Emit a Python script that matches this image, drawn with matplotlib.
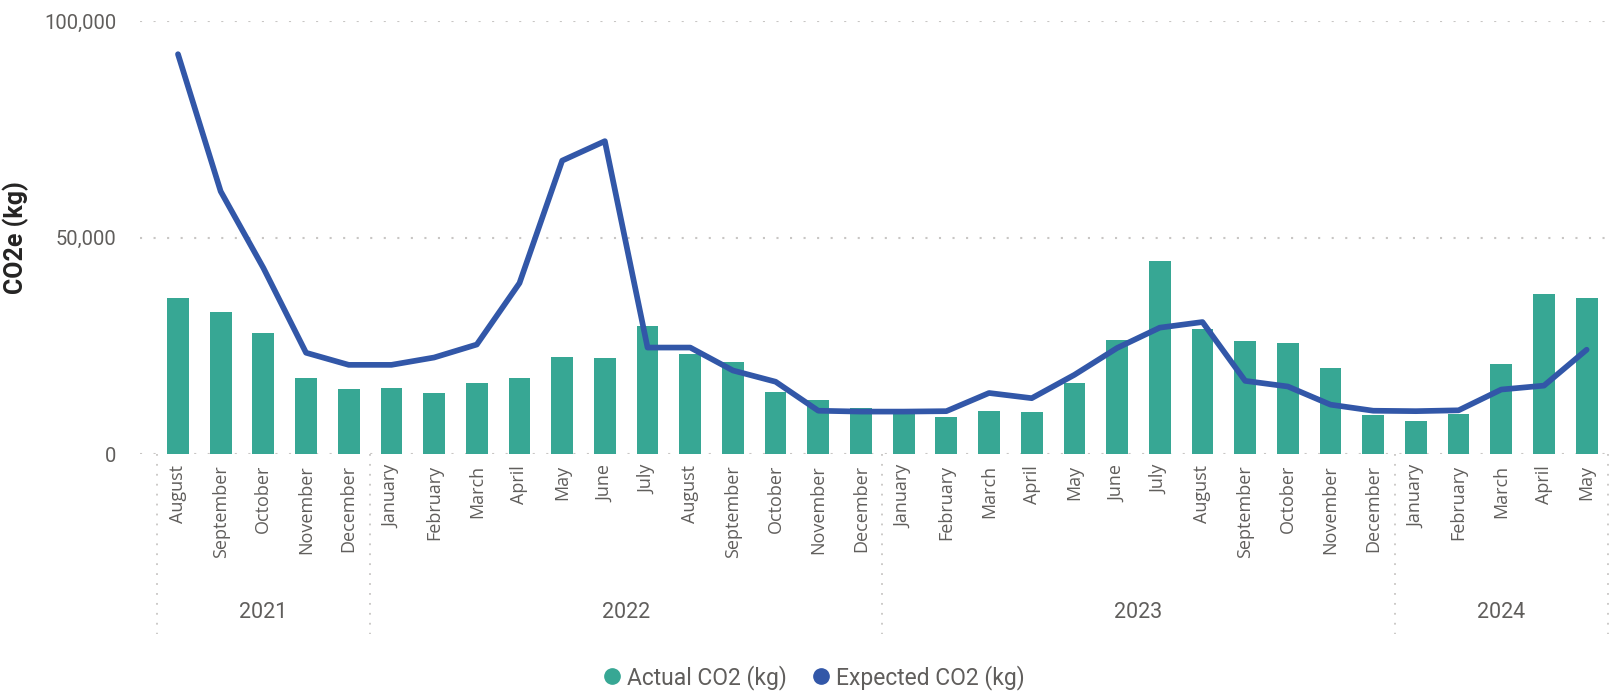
import matplotlib
matplotlib.use("Agg")
import matplotlib.pyplot as plt
import matplotlib.transforms as mtransforms
from matplotlib.lines import Line2D
from matplotlib.ticker import FuncFormatter

years = ["2021", "2022", "2023", "2024"]
months_per_year = [
    ["August", "September", "October", "November", "December"],
    ["January", "February", "March", "April", "May", "June", "July",
     "August", "September", "October", "November", "December"],
    ["January", "February", "March", "April", "May", "June", "July",
     "August", "September", "October", "November", "December"],
    ["January", "February", "March", "April", "May"],
]
actual_co2 = [
    36000, 32800, 28000, 17600, 15000,
    15300, 14100, 16400, 17600, 22400, 22200, 29600, 23200, 21300, 14400, 12500, 10700,
    9200, 8600, 10000, 9600, 16500, 26400, 44600, 28900, 26200, 25700, 19900, 8900,
    7700, 9300, 20800, 37000, 36100,
]
expected_co2 = [
    92400, 60700, 43000, 23400, 20600,
    20600, 22300, 25300, 39500, 67800, 72300, 24600, 24600, 19300, 16700, 10000, 9800,
    9800, 9900, 14100, 12900, 18300, 24500, 29200, 30500, 16900, 15600, 11400, 10000,
    9900, 10100, 14900, 15800, 24100,
]
y_ticks = [0, 50000, 100000]

TEAL = "#37A794"
BLUE = "#3257A8"
TEXT = "#605E5C"
GRID = "#C8C6C4"
NARROW = ["Liberation Sans Narrow", "Roboto", "DejaVu Sans"]
WIDE = ["Open Sans", "DejaVu Sans"]

month_labels = [m for group in months_per_year for m in group]
x = list(range(len(month_labels)))

fig = plt.figure(figsize=(16.22, 6.94), dpi=100)
ax = fig.add_axes([140 / 1622, 1 - 454 / 694, (1608 - 140) / 1622, (454 - 21.3) / 694])

ax.bar(x, actual_co2, width=0.51, color=TEAL, zorder=2, label="Actual CO2 (kg)")
ax.plot(x, expected_co2, color=BLUE, linewidth=4.1, solid_joinstyle="round",
        solid_capstyle="round", zorder=3, label="Expected CO2 (kg)")

ax.set_xlim(-0.89, len(x) - 0.5)
ax.set_ylim(0, 100000)
ax.set_yticks(y_ticks)
ax.yaxis.set_major_formatter(FuncFormatter(lambda v, _: f"{int(v):,}"))
ax.grid(axis="y", color=GRID, linewidth=1.5, linestyle=(0, (1, 5.5)), zorder=0)
for side in ax.spines.values():
    side.set_visible(False)
ax.tick_params(axis="y", length=0, pad=17, labelsize=14.5, labelcolor=TEXT)
for lab in ax.get_yticklabels():
    lab.set_family(NARROW)

ax.set_xticks(x)
ax.set_xticklabels(month_labels, rotation=90, fontsize=13, color=TEXT,
                   family=WIDE, va="top")
ax.tick_params(axis="x", length=0, pad=8)

ax.set_ylabel("CO2e (kg)", fontsize=18, fontweight="bold", color="#252423",
              family=["Roboto", "DejaVu Sans"])
ax.yaxis.set_label_coords(-0.0756, 0.5)

# year groups below the month labels
trans = mtransforms.blended_transform_factory(ax.transData, ax.transAxes)
start = 0
bounds = [-0.5]
for year, group in zip(years, months_per_year):
    end = start + len(group)
    ax.text((start + end - 1) / 2, -0.367, year, transform=trans, ha="center",
            va="center", fontsize=15.5, color=TEXT, family=NARROW)
    bounds.append(end - 0.5)
    start = end
for b in bounds:
    ax.add_line(Line2D([b, b], [0, -0.416], transform=trans, clip_on=False,
                       color=GRID, linewidth=1.3, linestyle=(0, (1, 4.5))))

handles = [
    Line2D([], [], marker="o", linestyle="none", markersize=11,
           markerfacecolor=TEAL, markeredgecolor=TEAL, label="Actual CO2 (kg)"),
    Line2D([], [], marker="o", linestyle="none", markersize=11,
           markerfacecolor=BLUE, markeredgecolor=BLUE, label="Expected CO2 (kg)"),
]
leg = fig.legend(handles=handles, loc="center", bbox_to_anchor=(0.4975, 0.024),
                 ncol=2, frameon=False, handletextpad=-0.35, columnspacing=0.5,
                 prop={"family": NARROW, "size": 16.5})
for t in leg.get_texts():
    t.set_color(TEXT)

fig.savefig("out.png", dpi=100)
